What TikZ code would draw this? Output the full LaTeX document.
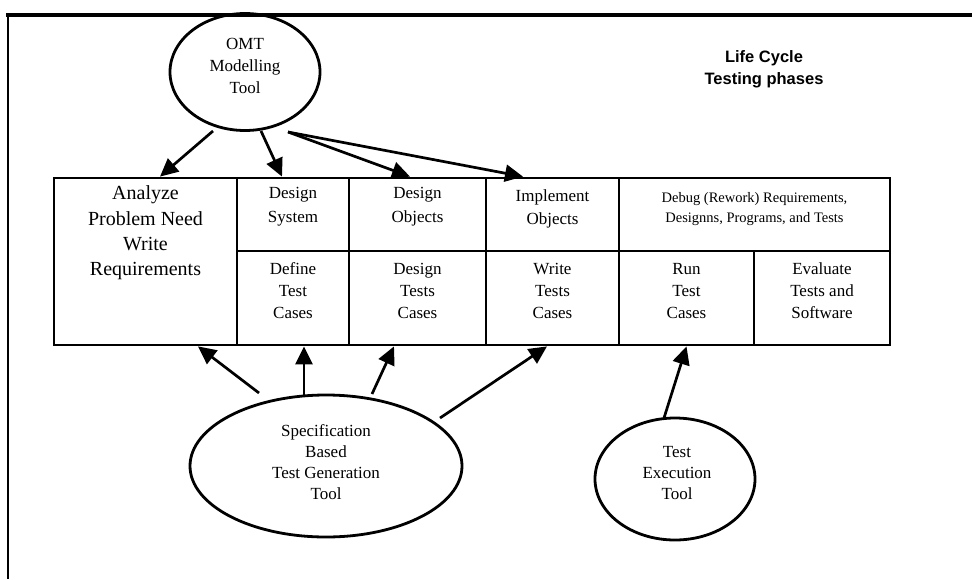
\documentclass[tikz,border=0pt]{standalone}
\usepackage{fontspec}
\setmainfont{Liberation Serif}
\newfontfamily\headfont{Liberation Sans}
\usetikzlibrary{arrows.meta,shapes.geometric,calc}

\begin{document}
\begin{tikzpicture}[x=1pt,y=-1pt,
  cell/.style={draw, rectangle, line width=2.8pt, inner sep=0pt},
  tool/.style={draw, ellipse, line width=2.8pt, inner sep=0pt},
  txt/.style={align=center, inner sep=0pt, font=\fontsize{17}{22}\selectfont},
  arr/.style={line width=2.7pt, -{Triangle[length=18pt,width=17pt]}},
  frame/.style={line width=#1}
]
\useasboundingbox (0,0) rectangle (972,579);

% outer frame (top and left edges)
\draw[frame=4pt] (6,14.5) -- (972,14.5);
\draw[frame=2pt] (8,14.5) -- (8,579);

% title
\node[align=center, inner sep=0pt, font=\headfont\bfseries\fontsize{16.5}{22}\selectfont]
  (title) at (764,69) {Life Cycle\\Testing phases};

% phase table
\node[cell, minimum width=183, minimum height=167] (analyze) at (145.5,261.5) {};
\node[cell, minimum width=112, minimum height=73]  (dsys)  at (293,214.5) {};
\node[cell, minimum width=137, minimum height=73]  (dobj)  at (417.5,214.5) {};
\node[cell, minimum width=133, minimum height=73]  (impl)  at (552.5,214.5) {};
\node[cell, minimum width=271, minimum height=73]  (debug) at (754.5,214.5) {};
\node[cell, minimum width=112, minimum height=94]  (deftc) at (293,298) {};
\node[cell, minimum width=137, minimum height=94]  (destc) at (417.5,298) {};
\node[cell, minimum width=133, minimum height=94]  (wrtc)  at (552.5,298) {};
\node[cell, minimum width=135, minimum height=94]  (runtc) at (686.5,298) {};
\node[cell, minimum width=136, minimum height=94]  (evtc)  at (822,298) {};

% cell texts
\node[txt, font=\fontsize{20}{25.3}\selectfont] (analyzeT) at (145.5,233) {Analyze\\Problem Need\\Write\\Requirements};
\node[txt, font=\fontsize{17}{24}\selectfont] (dsysT) at (293,207) {Design\\System};
\node[txt, font=\fontsize{17}{24}\selectfont] (dobjT) at (417.5,207) {Design\\Objects};
\node[txt, font=\fontsize{17}{23}\selectfont] (implT) at (552.5,209) {Implement\\Objects};
\node[txt, font=\fontsize{14.5}{19.5}\selectfont] (debugT) at (754.5,209)
  {Debug (Rework) Requirements,\\Designns, Programs, and Tests};
\node[txt] (deftcT) at (293,291) {Define\\Test\\Cases};
\node[txt] (destcT) at (417.5,291) {Design\\Tests\\Cases};
\node[txt] (wrtcT)  at (552.5,291) {Write\\Tests\\Cases};
\node[txt] (runtcT) at (686.5,291) {Run\\Test\\Cases};
\node[txt] (evtcT)  at (822,291) {Evaluate\\Tests and\\Software};

% tools
\node[tool, minimum width=150, minimum height=117] (omt)  at (245,72) {};
\node[txt] (omtT) at (245,66) {OMT\\Modelling\\Tool};
\node[tool, minimum width=272, minimum height=142] (spec) at (326,466) {};
\node[txt, font=\fontsize{17}{21}\selectfont] (specT) at (326,462) {Specification\\Based\\Test Generation\\Tool};
\node[tool, minimum width=160, minimum height=122] (exec) at (675,479) {};
\node[txt, font=\fontsize{17}{21}\selectfont] (execT) at (677,473) {Test\\Execution\\Tool};

% modelling tool feeds the analysis and design phases
\draw[arr] ($(omt.center)+(-32,59)$) -- ($(analyze.north)+(14.5,0)$);
\draw[arr] ($(omt.center)+(16,59)$)  -- ($(dsys.north)+(-11,0)$);
\draw[arr] ($(omt.center)+(43,60)$)  -- ($(dobj.north)+(-7.5,0)$);
\draw[arr] ($(omt.center)+(43,60)$)  -- ($(impl.north)+(-29.5,0)$);

% test generation tool feeds the test case phases
\draw[arr] ($(spec.center)+(-67,-73)$) -- ($(analyze.south)+(52.5,0)$);
\draw[arr] ($(spec.center)+(-22,-71)$) -- ($(deftc.south)+(11,0)$);
\draw[arr] ($(spec.center)+(46,-72)$)  -- ($(destc.south)+(-23.5,0)$);
\draw[arr] ($(spec.center)+(114,-48)$) -- ($(wrtc.south)+(-5.5,0)$);

% execution tool runs the test cases
\draw[arr] ($(exec.center)+(-11,-61)$) -- (runtc.south);
\end{tikzpicture}
\end{document}
